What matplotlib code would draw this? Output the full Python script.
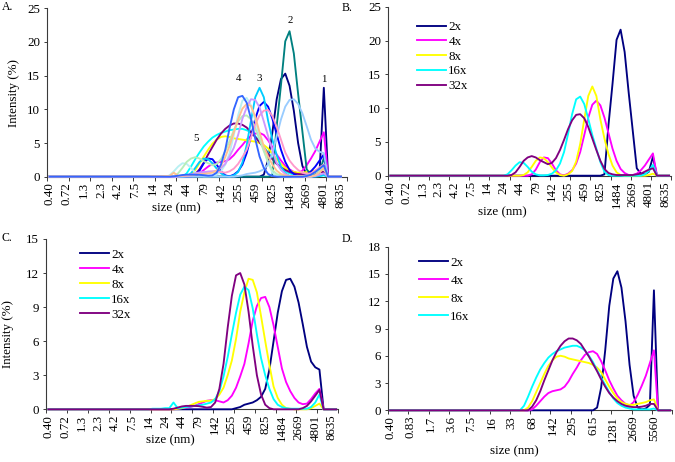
import numpy as np
import matplotlib
matplotlib.use("Agg")
import matplotlib.pyplot as plt

plt.rcParams['font.family'] = ['Liberation Serif', 'DejaVu Serif']

# ---------------- data (70 size bins, 0.4 nm ... 10 µm) ----------------
N_BINS = 70
FIRST = 20  # every list below starts at bin 20 (bins before are 0)

size_labels_abc = ["0.40", "0.72", "1.3", "2.3", "4.2", "7.5", "14", "24", "44",
                   "79", "142", "255", "459", "825", "1484", "2669", "4801", "8635"]
size_labels_d = ["0.40", "0.83", "1.7", "3.6", "7.5", "16", "33", "68", "142",
                 "295", "615", "1281", "2669", "5560"]
dilutions = ["2x", "4x", "8x", "16x", "32x"]

# Panel B
B_2x = [0, 0, 0, 0, 0, 0, 0, 0, 0, 0,
        0, 0, 0, 0, 0, 0, 0, 0, 0, 0,
        0, 0, 0, 0, 0, 0, 0, 0, 0, 0,
        0, 0, 0, 0.2, 7.5, 13.6, 20.1, 21.6, 18.3, 12.3,
        6.7, 1.1, 0.3, 0.2, 0.6, 2.8]
B_4x = [0, 0, 0, 0, 0, 0, 0, 0, 0, 0,
        0, 0, 0, 0, 0, 0.2, 0.9, 2.0, 2.7, 2.6,
        1.8, 0.8, 0.2, 0.05, 0.3, 0.8, 1.8, 3.5, 6.0, 8.6,
        10.5, 11.1, 10.4, 8.6, 6.3, 4.0, 2.2, 1.0, 0.4, 0.1,
        0.1, 0.3, 0.8, 1.5, 2.4, 3.3]
B_8x = [0, 0, 0, 0, 0, 0, 0, 0, 0, 0,
        0, 0, 0, 0.1, 0.5, 1.3, 2.2, 2.7, 2.6, 2.0,
        1.2, 0.5, 0.1, 0.0, 0.2, 0.7, 2.1, 4.7, 8.3, 11.8,
        13.2, 11.8, 8.3, 5.5, 3.2, 1.5, 0.5, 0.1, 0, 0,
        0, 0, 0, 0, 0.1, 0.3]
B_16x = [0, 0, 0, 0, 0, 0, 0, 0, 0, 0.2,
         0.8, 1.5, 2.0, 1.9, 1.3, 0.6, 0.2, 0.05, 0.05, 0.1,
         0.3, 0.8, 1.8, 3.5, 6.2, 9.1, 11.3, 11.7, 10.6, 8.4,
         6.0, 4.0, 2.0, 0.6, 0.1, 0, 0, 0, 0, 0,
         0, 0, 0, 0.2, 0.7, 1.6]
B_32x = [0, 0, 0, 0, 0, 0, 0, 0, 0, 0,
         0.1, 0.5, 1.3, 2.2, 2.7, 2.9, 2.7, 2.3, 2.0, 1.7,
         1.9, 2.6, 3.8, 5.3, 6.9, 8.2, 9.0, 9.1, 8.5, 7.2,
         5.5, 3.8, 2.2, 1.0, 0.4, 0.2, 0.1, 0.1, 0.1, 0.1,
         0.1, 0.2, 0.3, 0.6, 0.9, 1.1]

# Panel C
C_2x = [0, 0, 0, 0, 0, 0, 0, 0, 0, 0,
        0, 0, 0, 0, 0, 0, 0, 0, 0, 0,
        0, 0, 0, 0, 0, 0.1, 0.2, 0.4, 0.5, 0.6,
        0.8, 1.1, 1.8, 3.5, 6.0, 8.5, 10.4, 11.4, 11.5, 10.8,
        9.4, 7.5, 5.5, 4.2, 3.7, 3.5]
C_4x = [0, 0, 0, 0, 0, 0, 0, 0, 0, 0,
        0, 0.05, 0.1, 0.15, 0.2, 0.3, 0.45, 0.6, 0.75, 0.8,
        0.8, 0.7, 0.6, 0.8, 1.2, 1.9, 2.9, 4.0, 5.8, 7.8,
        9.1, 9.8, 9.9, 9.0, 7.4, 5.5, 3.6, 2.4, 1.6, 1.0,
        0.6, 0.45, 0.5, 0.9, 1.4, 1.8]
C_8x = [0, 0, 0, 0, 0, 0, 0, 0, 0, 0,
        0, 0.05, 0.1, 0.2, 0.35, 0.5, 0.65, 0.7, 0.75, 0.75,
        0.9, 1.3, 1.9, 3.0, 4.3, 6.2, 8.6, 10.3, 11.5, 11.4,
        10.3, 8.2, 6.0, 3.9, 2.0, 1.0, 0.4, 0.1, 0.05, 0,
        0, 0, 0, 0.1, 0.3, 0.5]
C_16x = [0, 0, 0, 0, 0, 0.05, 0.05, 0.05, 0.1, 0.1,
         0.6, 0.1, 0.15, 0.2, 0.25, 0.3, 0.35, 0.4, 0.5, 0.6,
         0.9, 1.6, 2.9, 4.6, 6.6, 8.5, 10.1, 10.8, 10.5, 8.9,
         6.6, 4.5, 3.0, 1.8, 0.9, 0.4, 0.2, 0.1, 0.05, 0.05,
         0.05, 0.05, 0.05, 0.2, 0.6, 1.3]
C_32x = [0, 0, 0, 0, 0, 0, 0, 0, 0, 0,
         0.05, 0.15, 0.25, 0.3, 0.3, 0.3, 0.28, 0.22, 0.15, 0.2,
         0.6, 1.8, 4.0, 7.2, 10.0, 11.8, 12.0, 11.0, 8.6, 5.6,
         3.0, 1.3, 0.4, 0.1, 0, 0, 0, 0, 0, 0,
         0, 0.1, 0.3, 0.7, 1.2, 1.7]

# Panel D
D_2x = [0, 0, 0, 0, 0, 0, 0, 0, 0, 0,
        0, 0, 0, 0, 0, 0, 0, 0, 0, 0,
        0, 0, 0, 0, 0, 0, 0, 0, 0, 0,
        0, 0.3, 2.5, 6.6, 11.5, 14.5, 15.3, 13.5, 9.8, 5.0,
        1.6, 0.3, 0.1, 0.2, 0.6, 13.2]
D_4x = [0, 0, 0, 0, 0, 0, 0, 0, 0, 0,
        0, 0, 0, 0, 0, 0.1, 0.5, 1.0, 1.5, 1.9,
        2.1, 2.2, 2.3, 2.6, 3.2, 4.0, 4.7, 5.5, 6.1, 6.4,
        6.5, 6.2, 5.4, 4.4, 3.3, 2.4, 1.6, 1.1, 0.7, 0.5,
        0.9, 1.7, 2.7, 3.8, 5.2, 6.6]
D_8x = [0, 0, 0, 0, 0, 0, 0, 0, 0, 0,
        0, 0, 0, 0, 0.3, 1.0, 2.0, 3.0, 4.0, 4.9,
        5.5, 5.9, 6.0, 5.9, 5.7, 5.6, 5.5, 5.4, 5.3, 5.2,
        5.0, 4.7, 4.2, 3.4, 2.6, 1.9, 1.3, 0.9, 0.7, 0.6,
        0.6, 0.7, 0.8, 0.9, 1.1, 1.2]
D_16x = [0, 0, 0, 0, 0, 0, 0, 0, 0, 0,
         0, 0, 0, 0.5, 1.5, 2.6, 3.6, 4.5, 5.2, 5.8,
         6.2, 6.5, 6.7, 6.9, 7.0, 7.1, 7.1, 6.9, 6.6, 6.0,
         5.3, 4.4, 3.6, 2.8, 2.0, 1.3, 0.8, 0.5, 0.3, 0.2,
         0.1, 0.1, 0.1, 0.1, 0.1, 0.2]
D_32x = [0, 0, 0, 0, 0, 0, 0, 0, 0, 0,
         0, 0, 0, 0, 0, 0.4, 1.1, 2.1, 3.3, 4.4,
         5.5, 6.4, 7.1, 7.6, 7.9, 7.9, 7.7, 7.3, 6.6, 5.9,
         5.1, 4.3, 3.4, 2.6, 1.9, 1.4, 1.0, 0.7, 0.5, 0.4,
         0.35, 0.35, 0.4, 0.5, 0.7, 0.7]

peak_labels = ["1", "2", "3", "4", "5"]
peak_label_x = [65.0, 57.1, 49.9, 45.1, 35.2]   # size-bin position
peak_label_y = [14.5, 23.2, 14.6, 14.6, 5.7]    # intensity (%)


def full(vals):
    out = [0.0] * FIRST + list(vals)
    return np.array(out + [0.0] * (N_BINS - len(out)))


BINS = np.arange(N_BINS)

# ---------------- styling ----------------
FS = 9.4
LW = 1.35
AX_COL = "#3a3a3a"
excel5 = ["#000080", "#FF00FF", "#FFFF00", "#00FFFF", "#800080"]
colA_B = ["#008080", "#0000FF", "#00CCFF", "#B8F0F2", "#B8EEB8"]
colA_C = ["#99CCFF", "#FF99CC", "#CC99FF", "#FFC090", "#3366FF"]

W, H = 675, 462
fig = plt.figure(figsize=(W / 100, H / 100), dpi=100)


def px_axes(left, right, top, bottom):
    return fig.add_axes([left / W, 1 - bottom / H, (right - left) / W, (bottom - top) / H])


def style(ax, ymax, ystep, labels, label_every, tick_every, shift=0):
    ax.set_xlim(-0.5 + shift, N_BINS - 0.5 + shift)
    ax.set_ylim(0, ymax)
    yt = np.arange(0, ymax + 0.001, ystep)
    ax.set_yticks(yt)
    ax.set_yticklabels([f"{v:g}" for v in yt], fontsize=FS)
    ax.set_xticks(shift + np.arange(len(labels)) * label_every)
    ax.set_xticklabels(labels, rotation=90, fontsize=FS, va="top", ha="center")
    ax.set_xticks(-0.5 + shift + np.arange(0, N_BINS + 1, tick_every), minor=True)
    ax.tick_params(axis="x", which="major", length=0, pad=4.0)
    ax.tick_params(axis="x", which="minor", length=3, width=0.7, color=AX_COL, direction="out")
    ax.tick_params(axis="y", length=2.3, width=0.7, color=AX_COL, direction="out", pad=3.0)
    for s in ("top", "right"):
        ax.spines[s].set_visible(False)
    for s in ("left", "bottom"):
        ax.spines[s].set_color(AX_COL)
        ax.spines[s].set_linewidth(0.8)
    ax.set_facecolor("none")


def draw(ax, series, colors, labels=None, start=0):
    for i, (vals, c) in enumerate(zip(series, colors)):
        lab = labels[i] if labels is not None and i < len(labels) else "_nolegend_"
        ax.plot(BINS[start:], full(vals)[start:], color=c, lw=LW, label=lab,
                solid_joinstyle="round", clip_on=False, zorder=3)


seriesB = [B_2x, B_4x, B_8x, B_16x, B_32x]
seriesC = [C_2x, C_4x, C_8x, C_16x, C_32x]
seriesD = [D_2x, D_4x, D_8x, D_16x, D_32x]

# ---- A ----
axA = px_axes(47.4, 347.4, 8.3, 176.7)
style(axA, 25, 5, size_labels_abc, 4, 5, shift=1)
draw(axA, seriesD, excel5, start=1)
draw(axA, seriesB, colA_B, start=1)
draw(axA, seriesC, colA_C, start=1)
for t, x, y in zip(peak_labels, peak_label_x, peak_label_y):
    axA.text(x, y, t, fontsize=7.8, ha="center", va="center")

# ---- B ----
axB = px_axes(388.3, 671.1, 6.7, 175.7)
style(axB, 25, 5, size_labels_abc, 4, 5)
draw(axB, seriesB, excel5, dilutions)
axB.legend(loc="upper left", bbox_to_anchor=(0.101, 0.915), frameon=False, fontsize=FS,
           handlelength=2.2, handletextpad=0.2, labelspacing=0.2, borderpad=0, borderaxespad=0)

# ---- C ----
axC = px_axes(46.3, 338.2, 239.0, 409.3)
style(axC, 15, 3, size_labels_abc, 4, 5)
draw(axC, seriesC, excel5, dilutions)
axC.legend(loc="upper left", bbox_to_anchor=(0.115, 0.945), frameon=False, fontsize=FS,
           handlelength=2.2, handletextpad=0.2, labelspacing=0.22, borderpad=0, borderaxespad=0)

# ---- D ----
axD = px_axes(388.0, 672.2, 246.7, 410.3)
style(axD, 18, 3, size_labels_d, 5, 5)
draw(axD, seriesD, excel5, dilutions[:4])
axD.legend(loc="upper left", bbox_to_anchor=(0.109, 0.94), frameon=False, fontsize=FS,
           handlelength=2.2, handletextpad=0.2, labelspacing=0.45, borderpad=0, borderaxespad=0)

# ---- titles / labels ----
def ftext(x, y, s, **kw):
    fig.text(x / W, 1 - y / H, s, **kw)

ftext(176.7, 208, "size (nm)", fontsize=FS, ha="center", va="center")
ftext(502.5, 212, "size (nm)", fontsize=FS, ha="center", va="center")
ftext(170.0, 440, "size (nm)", fontsize=FS, ha="center", va="center")
ftext(514.2, 451.7, "size (nm)", fontsize=FS, ha="center", va="center")
ftext(13.7, 93.3, "Intensity (%)", fontsize=FS, ha="center", va="center", rotation=90)
ftext(7.7, 334, "Intensity (%)", fontsize=FS, ha="center", va="center", rotation=90)
ftext(1.5, 7.5, "A.", fontsize=8.5, ha="left", va="center")
ftext(342, 7.8, "B.", fontsize=8.5, ha="left", va="center")
ftext(1.5, 238, "C.", fontsize=8.5, ha="left", va="center")
ftext(342, 238.5, "D.", fontsize=8.5, ha="left", va="center")

fig.savefig("out.png", dpi=100)
